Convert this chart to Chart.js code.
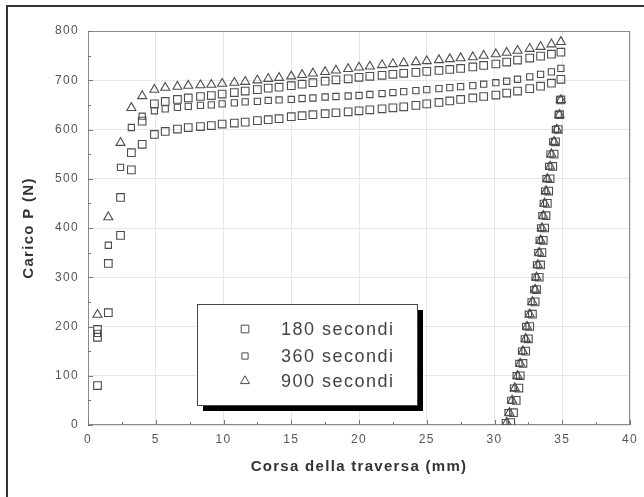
<!DOCTYPE html>
<html>
<head>
<meta charset="utf-8">
<script src="https://cdn.jsdelivr.net/npm/chart.js"></script>
<style>
  html, body { margin: 0; padding: 0; background: #fff; }
  #wrap { width: 644px; height: 497px; position: relative; }
</style>
</head>
<body>
<div id="wrap"><canvas id="chart" width="644" height="497"></canvas></div>
<script>
// corsa della traversa (mm) for the loading branch, shared by all bands
const xLoad = [0.7, 1.5, 2.4, 3.2, 4.0, 4.9, 5.7, 6.6, 7.4, 8.3, 9.1, 9.9, 10.8, 11.6, 12.5, 13.3, 14.1, 15.0, 15.8, 16.6, 17.5,
  18.3, 19.2, 20.0, 20.8, 21.7, 22.5, 23.3, 24.2, 25.0, 25.9, 26.7, 27.5, 28.4, 29.2, 30.1, 30.9, 31.7, 32.6, 33.4, 34.2, 34.9];

// carico P (N) - loading branch
const y180a = [178, 228, 385, 518, 570, 590, 596, 601, 604, 606, 608, 611, 613, 615, 618, 620, 622, 626, 628, 630, 632,
  634, 636, 638, 640, 642, 644, 646, 649, 652, 655, 658, 661, 664, 667, 670, 674, 678, 683, 688, 694, 702];
const y180b = [194, 328, 462, 553, 617, 652, 657, 661, 664, 667, 669, 672, 675, 678, 681, 684, 686, 689, 692, 695, 698,
  701, 703, 706, 708, 710, 712, 714, 716, 718, 720, 722, 724, 727, 730, 733, 737, 741, 745, 749, 753, 757];
const y360 = [186, 365, 523, 604, 627, 638, 642, 645, 647, 649, 650, 652, 654, 656, 657, 659, 660, 661, 663, 664, 666,
  667, 668, 669, 671, 673, 675, 677, 679, 681, 683, 685, 687, 689, 692, 695, 698, 702, 707, 712, 717, 724];
const y900 = [224, 422, 573, 644, 668, 681, 685, 687, 689, 690, 691, 693, 695, 697, 700, 703, 705, 708, 711, 714, 717,
  720, 723, 726, 728, 731, 733, 735, 737, 739, 741, 743, 745, 747, 750, 753, 756, 760, 764, 768, 773, 778];
const extra180 = [{ x: 0.7, y: 80 }];

// unloading branch
const yUnload = [660, 630, 600, 575, 550, 525, 500, 475, 450, 425, 400, 375, 350, 325, 300, 275, 250, 225, 200, 175,
  150, 125, 100, 75, 50, 25, 5];
const xUnload180 = [34.9, 34.8, 34.7, 34.5, 34.4, 34.3, 34.1, 34.0, 33.9, 33.8, 33.7, 33.6, 33.5, 33.4, 33.3, 33.1,
  33.0, 32.8, 32.6, 32.5, 32.3, 32.1, 31.9, 31.8, 31.6, 31.4, 31.2];
const xUnload360 = [34.8, 34.7, 34.5, 34.3, 34.1, 34.0, 33.8, 33.7, 33.6, 33.5, 33.4, 33.3, 33.2, 33.1, 33.0, 32.9,
  32.7, 32.5, 32.3, 32.2, 32.0, 31.8, 31.6, 31.4, 31.2, 31.0, 30.8];
const xUnload900 = [34.9, 34.8, 34.6, 34.4, 34.2, 34.1, 33.9, 33.8, 33.7, 33.6, 33.5, 33.4, 33.3, 33.2, 33.1, 33.0,
  32.8, 32.6, 32.4, 32.3, 32.1, 31.9, 31.7, 31.5, 31.3, 31.1, 30.9];

const seriesLabels = ["180 secondi", "360 secondi", "900 secondi"];
const xTicks = [0, 5, 10, 15, 20, 25, 30, 35, 40];
const yTicks = [0, 100, 200, 300, 400, 500, 600, 700, 800];

const pts = (xs, ys) => xs.map((x, i) => ({ x: x, y: ys[i] })).filter((p) => p.y !== null);

const markColor = "#4d4d4d";

const datasets = [
  {
    label: seriesLabels[0],
    data: pts(xLoad, y180a).concat(pts(xLoad, y180b), extra180, pts(xUnload180, yUnload)),
    pointStyle: "rect", pointRadius: 5.4,
  },
  {
    label: seriesLabels[1],
    data: pts(xLoad, y360).concat(pts(xUnload360, yUnload)),
    pointStyle: "rect", pointRadius: 4.4,
  },
  {
    label: seriesLabels[2],
    data: pts(xLoad, y900).concat(pts(xUnload900, yUnload)),
    pointStyle: "triangle", pointRadius: 5.2,
  },
].map((d) => Object.assign(d, {
  showLine: false,
  borderColor: markColor,
  backgroundColor: "rgba(0,0,0,0)",
  pointBorderWidth: 1.1,
}));

// frame, inward ticks, outer border, wide text
const framePlugin = {
  id: "frame",
  beforeDraw(chart) {
    if ("letterSpacing" in chart.ctx) chart.ctx.letterSpacing = "1.3px";
  },
  beforeDatasetsDraw(chart) {
    const { ctx, chartArea: a, scales } = chart;
    ctx.save();
    ctx.strokeStyle = "#8a8a8a";
    ctx.lineWidth = 1;
    ctx.strokeRect(a.left + 0.5, a.top + 0.5, a.right - a.left - 1, a.bottom - a.top - 1);
    ctx.strokeStyle = "#777";
    ctx.beginPath();
    for (let v = 0; v <= 40; v += 2.5) {
      const px = Math.round(scales.x.getPixelForValue(v)) + 0.5;
      const len = v % 5 === 0 ? 5 : 3;
      ctx.moveTo(px, a.bottom);
      ctx.lineTo(px, a.bottom - len);
    }
    for (let v = 0; v <= 800; v += 50) {
      const py = Math.round(scales.y.getPixelForValue(v)) + 0.5;
      const len = v % 100 === 0 ? 5 : 3;
      ctx.moveTo(a.left, py);
      ctx.lineTo(a.left + len, py);
    }
    ctx.stroke();
    ctx.restore();
  },
  afterDraw(chart) {
    const ctx = chart.ctx;
    ctx.save();
    ctx.strokeStyle = "#333";
    ctx.lineWidth = 2;
    ctx.beginPath();
    ctx.moveTo(7, 497);
    ctx.lineTo(7, 6);
    ctx.lineTo(644, 6);
    ctx.stroke();
    ctx.restore();
    if ("letterSpacing" in ctx) ctx.letterSpacing = "0px";
  },
};

// boxed legend with drop shadow
const boxLegend = {
  id: "boxLegend",
  afterDraw(chart) {
    const ctx = chart.ctx;
    const bx = 197, by = 304, bw = 220, bh = 101;
    ctx.save();
    ctx.fillStyle = "#000";
    ctx.fillRect(bx + 6, by + 6, bw, bh);
    ctx.fillStyle = "#fff";
    ctx.fillRect(bx, by, bw, bh);
    ctx.strokeStyle = "#444";
    ctx.lineWidth = 1;
    ctx.strokeRect(bx + 0.5, by + 0.5, bw, bh);
    const rows = [329, 356, 381];
    chart.data.datasets.forEach((ds, i) => {
      ctx.strokeStyle = markColor;
      ctx.fillStyle = "rgba(0,0,0,0)";
      ctx.lineWidth = 1;
      Chart.helpers.drawPoint(ctx, { pointStyle: ds.pointStyle, radius: ds.pointRadius, rotation: 0, borderWidth: 1 }, 245, rows[i]);
      ctx.fillStyle = "#444";
      ctx.font = "18px 'Liberation Sans', Arial, sans-serif";
      ctx.textBaseline = "middle";
      if ("letterSpacing" in ctx) ctx.letterSpacing = "1.5px";
      ctx.fillText(ds.label, 281, rows[i] + 1);
    });
    ctx.restore();
  },
};

const tickFont = { family: "'Liberation Sans', Arial, sans-serif", size: 12 };
const titleFont = { family: "'Liberation Sans', Arial, sans-serif", size: 15, weight: "bold" };

new Chart(document.getElementById("chart"), {
  type: "scatter",
  data: { datasets: datasets },
  options: {
    responsive: false,
    animation: false,
    events: [],
    layout: { padding: { top: 31, right: 14, left: 0, bottom: 0 } },
    plugins: { legend: { display: false }, tooltip: { enabled: false } },
    scales: {
      x: {
        type: "linear", min: 0, max: 40,
        afterBuildTicks: (s) => { s.ticks = xTicks.map((v) => ({ value: v })); },
        afterFit: (s) => { s.height = 72; },
        ticks: { color: "#555", font: tickFont, padding: 7 },
        grid: { color: "#e6e6e6", drawTicks: false },
        border: { display: false },
        title: { display: true, text: "Corsa della traversa (mm)", color: "#333", font: titleFont, padding: { top: 0, bottom: 21 } },
      },
      y: {
        type: "linear", min: 0, max: 800,
        afterBuildTicks: (s) => { s.ticks = yTicks.map((v) => ({ value: v })); },
        afterFit: (s) => { s.width = 88; },
        ticks: { color: "#555", font: tickFont, padding: 9 },
        grid: { color: "#e6e6e6", drawTicks: false },
        border: { display: false },
        title: { display: true, text: "Carico P (N)", color: "#333", font: titleFont, padding: { top: 20, bottom: 0 } },
      },
    },
  },
  plugins: [framePlugin, boxLegend],
});
</script>
</body>
</html>
